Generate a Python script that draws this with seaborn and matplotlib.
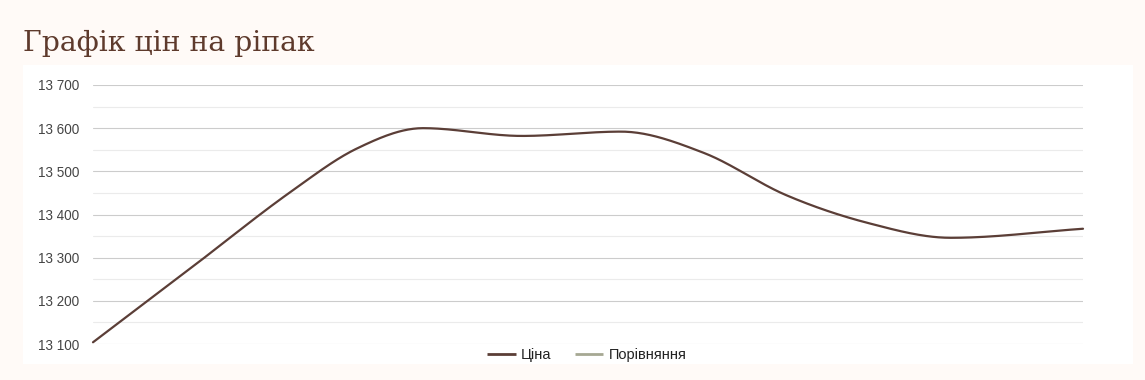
import numpy as np
import pandas as pd
import matplotlib
matplotlib.use("Agg")
import matplotlib.pyplot as plt
from matplotlib import font_manager as fm
from matplotlib.patches import Rectangle
from matplotlib.lines import Line2D
from matplotlib.ticker import MultipleLocator, FuncFormatter
import seaborn as sns

# ---- data ----
title = "Графік цін на ріпак"
series_names = ["Ціна", "Порівняння"]
day = [0, 3, 6, 8, 10, 13, 16, 18.5, 21, 23.5, 26, 30]
price = [13104, 13278, 13453, 13553, 13600, 13582, 13592, 13543, 13445, 13380, 13346, 13367]
y_ticks = [13100, 13200, 13300, 13400, 13500, 13600, 13700]

W, H = 1145, 380
BG = "#fffaf7"
LINE = "#5b3e37"
CMP = "#a6a893"


def smooth(x, y, per_seg=40):
    """Monotone cubic (Fritsch-Carlson) rendering of the polyline."""
    x = np.asarray(x, float)
    y = np.asarray(y, float)
    h = np.diff(x)
    d = np.diff(y) / h
    n = len(x)
    m = np.zeros(n)
    m[0], m[-1] = d[0], d[-1]
    for k in range(1, n - 1):
        if d[k - 1] * d[k] > 0:
            m[k] = (d[k - 1] + d[k]) / 2
    for k in range(n - 1):
        if d[k] == 0:
            m[k] = m[k + 1] = 0
            continue
        a, b = m[k] / d[k], m[k + 1] / d[k]
        s = a * a + b * b
        if s > 9:
            tau = 3 / np.sqrt(s)
            m[k], m[k + 1] = tau * a * d[k], tau * b * d[k]
    xs, ys = [], []
    for k in range(n - 1):
        t = np.linspace(0, 1, per_seg, endpoint=(k == n - 2))
        h00 = 2 * t**3 - 3 * t**2 + 1
        h10 = t**3 - 2 * t**2 + t
        h01 = -2 * t**3 + 3 * t**2
        h11 = t**3 - t**2
        xs.append(x[k] + t * h[k])
        ys.append(h00 * y[k] + h10 * h[k] * m[k] + h01 * y[k + 1] + h11 * h[k] * m[k + 1])
    return np.concatenate(xs), np.concatenate(ys)


def regular_font(family):
    for f in fm.fontManager.ttflist:
        if (f.name == family and f.style == "normal" and f.weight in (400, "normal")
                and "narrow" not in f.fname.lower()):
            return fm.FontProperties(fname=f.fname)
    return fm.FontProperties(family=family)


sns.set_theme(style="white")
plt.rcParams["font.family"] = ["Liberation Sans", "DejaVu Sans"]
sans = regular_font("Liberation Sans")

fig = plt.figure(figsize=(W / 100, H / 100), dpi=100, facecolor=BG)

# white card behind chart
fig.patches.append(Rectangle((23 / W, 1 - 364 / H), (1133 - 23) / W, (364 - 65) / H,
                             transform=fig.transFigure, facecolor="white",
                             edgecolor="none", zorder=-5))

fig.text(23 / W, 1 - 51 / H, title, fontsize=20.3, color="#5e3a2c",
         family=["DejaVu Serif"], ha="left", va="baseline")

ax = fig.add_axes([93 / W, 1 - 344 / H, 990 / W, 259 / H])
ax.set_facecolor("none")
ax.set_zorder(2)

sx, sy = smooth(day, price)
df = pd.DataFrame({"day": sx, "price": sy})
sns.lineplot(data=df, x="day", y="price", ax=ax, color=LINE, linewidth=1.6,
             estimator=None, sort=False, legend=False, zorder=5, clip_on=False)

ax.set_xlim(day[0], day[-1])
ax.set_ylim(y_ticks[0], y_ticks[-1])
ax.set_yticks(y_ticks)
ax.yaxis.set_minor_locator(MultipleLocator(50))
ax.yaxis.set_major_formatter(FuncFormatter(lambda v, p: f"{int(v):,}".replace(",", " ")))
ax.set_xticks([])
ax.set_xlabel("")
ax.set_ylabel("")
for s in ax.spines.values():
    s.set_visible(False)
ax.grid(False)
ax.grid(True, which="major", axis="y", color="#cccccc", linewidth=0.8, zorder=1)
ax.grid(True, which="minor", axis="y", color="#ebebeb", linewidth=0.8, zorder=1)
ax.tick_params(axis="y", which="both", length=0, pad=10)
for lab in ax.get_yticklabels():
    lab.set_fontproperties(sans)
    lab.set_fontsize(9.75)
    lab.set_color("#444444")

handles = [Line2D([], [], color=LINE, linewidth=2, solid_capstyle="butt"),
           Line2D([], [], color=CMP, linewidth=2, solid_capstyle="butt")]
leg_prop = sans.copy()
leg_prop.set_size(10.5)
fig.legend(handles, series_names, loc="center", bbox_to_anchor=(587 / W, 1 - 355 / H),
           ncol=2, frameon=False, prop=leg_prop, handlelength=1.93, handletextpad=0.36,
           columnspacing=1.64, labelcolor="#222222", borderaxespad=0, borderpad=0)

fig.savefig("out.png", dpi=100, facecolor=BG)
